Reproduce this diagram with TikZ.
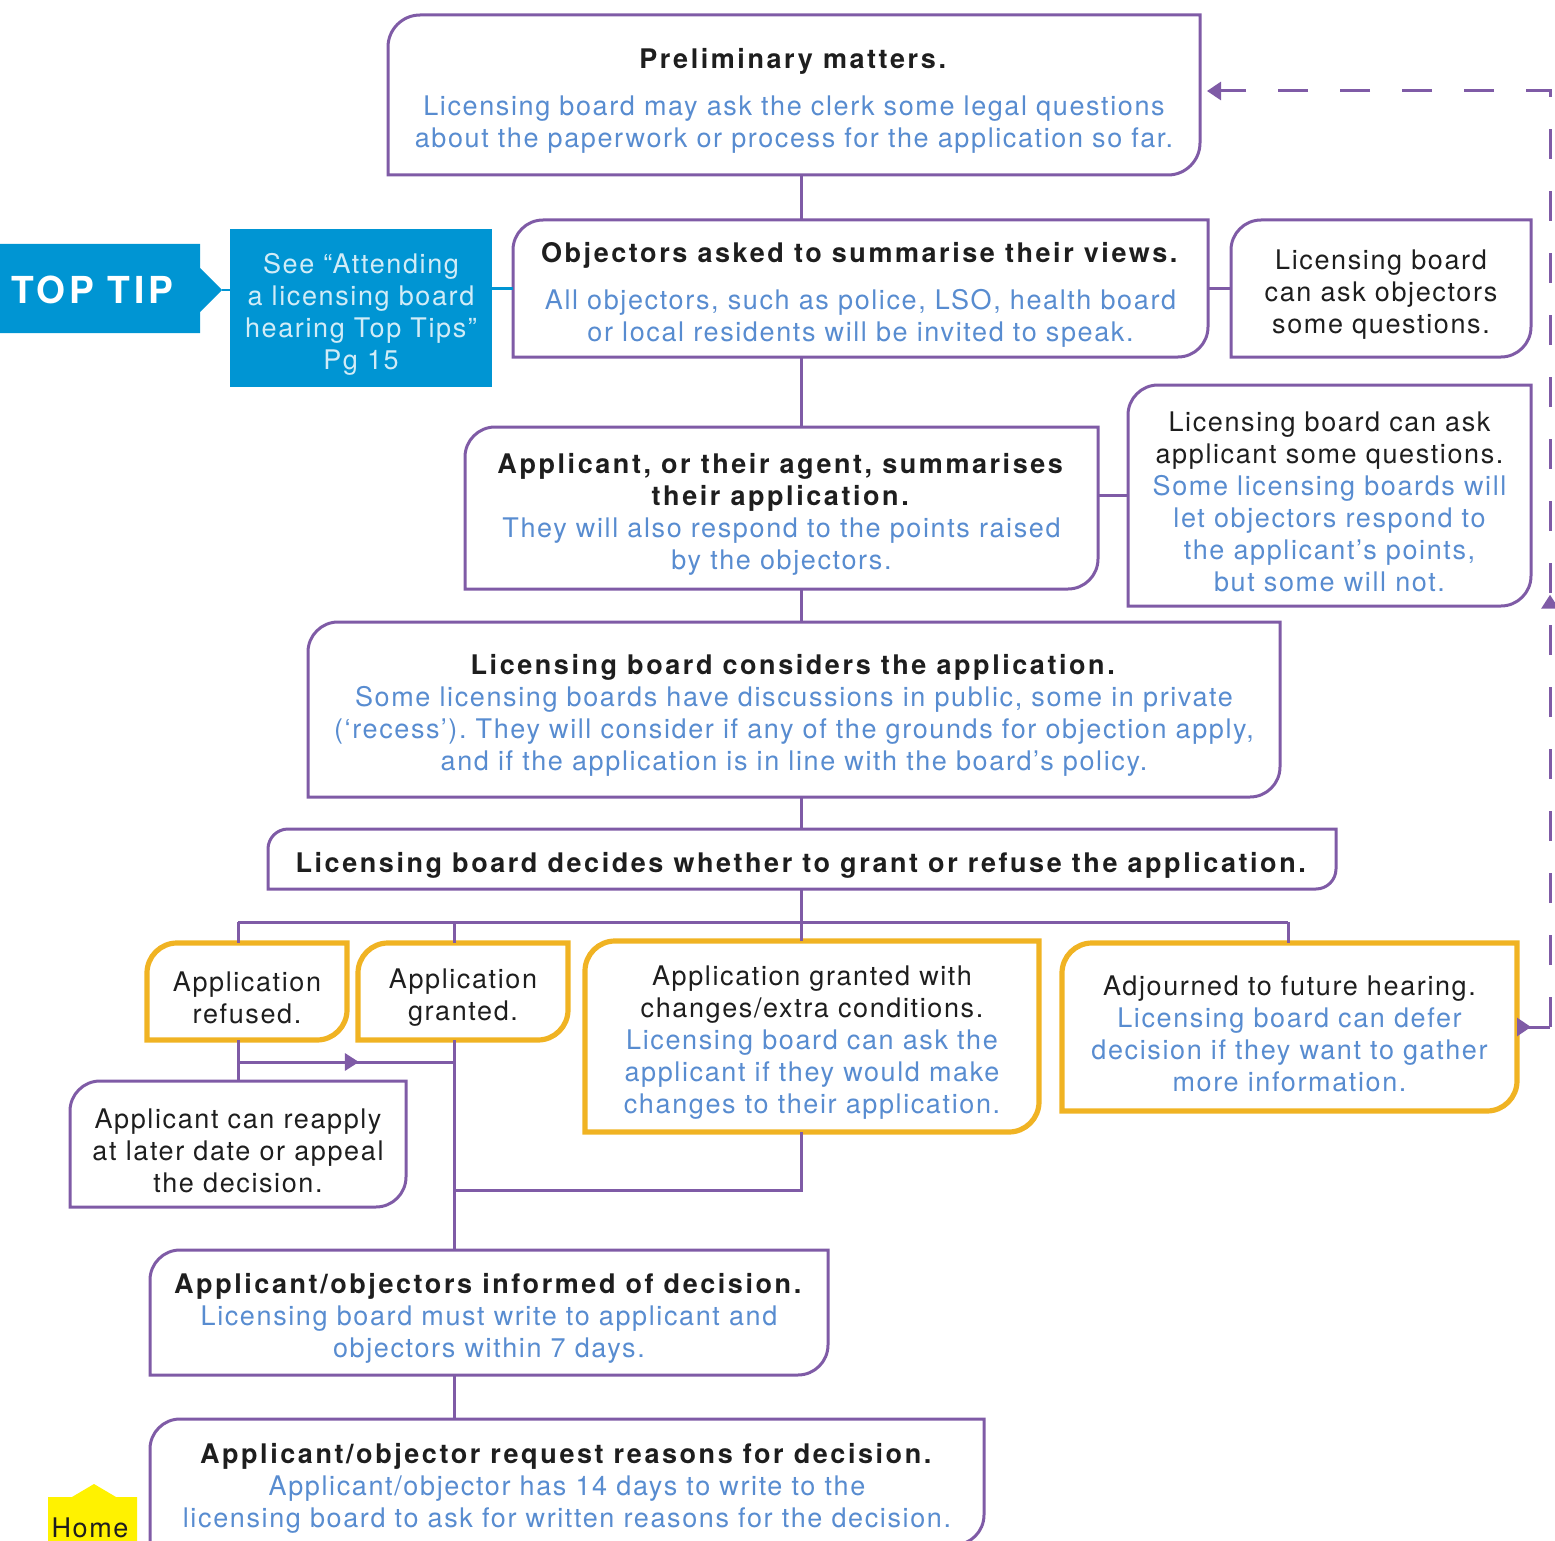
\documentclass[tikz,border=0pt]{standalone}
\usepackage{fontspec}
\setmainfont{TeX Gyre Heros}[LetterSpace=6,BoldFeatures={LetterSpace=9.5}]
\usetikzlibrary{arrows.meta,decorations.markings,calc}
\definecolor{purp}{RGB}{127,91,166}
\definecolor{bluetxt}{RGB}{88,140,208}
\definecolor{darktxt}{RGB}{30,30,30}
\definecolor{orng}{RGB}{240,179,35}
\definecolor{tipblue}{RGB}{0,149,211}
\definecolor{homey}{RGB}{255,242,0}
\frenchspacing
\newcommand\bt[1]{\textcolor{bluetxt}{#1}}
\newcommand\tp{\rule{0pt}{16.3pt}}
\newcommand\leafborder[3]{%
  \draw[#3] ($(#1.north west)+(0,#2)$) .. controls ($(#1.north west)+(0,{0.45*#2})$) and ($(#1.north west)+({0.45*#2},0)$) .. ($(#1.north west)+(#2,0)$) -- (#1.north east) -- ($(#1.south east)+(0,-#2)$) .. controls ($(#1.south east)+(0,{-0.45*#2})$) and ($(#1.south east)+({-0.45*#2},0)$) .. ($(#1.south east)+(-#2,0)$) -- (#1.south west) -- cycle;}
\tikzset{
  txt/.style={inner sep=0pt, outer sep=0pt, align=center, font=\fontsize{13.5}{16}\selectfont\frenchspacing, text=darktxt},
  pbox/.style={purp, line width=1.5pt},
  obox/.style={orng, line width=2.6pt},
  con/.style={purp, line width=1.5pt},
  tipline/.style={tipblue, line width=1.2pt},
  midarrow/.style={postaction={decorate}, decoration={markings, mark=at position #1 with {\arrow[solid]{Triangle[length=7pt,width=8.5pt]}}}}
}
\begin{document}
\begin{tikzpicture}[x=0.5pt,y=-0.5pt]
\clip (0,0) rectangle (1555,1541);
% nodes
\node[txt, minimum width=406pt, minimum height=80pt] (pre) at (794,95)
  {\tp\textbf{Preliminary matters.}\\[7.5pt]\bt{Licensing board may ask the clerk some legal questions}\\\bt{about the paperwork or process for the application so far.}};
\node[txt, minimum width=347.5pt, minimum height=68.5pt] (obj) at (860.5,288.5)
  {\tp\textbf{Objectors asked to summarise their views.}\\[7.5pt]\bt{All objectors, such as police, LSO, health board}\\\bt{or local residents will be invited to speak.}};
\node[txt, minimum width=150pt, minimum height=68.5pt] (objq) at (1381,288.5)
  {\tp Licensing board\\can ask objectors\\some questions.};
\fill[tipblue] (0,244) -- (200,244) -- (200,268) -- (222,290) -- (200,312) -- (200,333) -- (0,333) -- cycle;
\node[inner sep=0pt, font=\fontsize{18.6}{21}\selectfont\bfseries, text=white] (toptip) at (92,290) {TOP TIP};
\coordinate (tipnose) at (222,290);
\node[txt, fill=tipblue, text=white!82!tipblue, minimum width=131pt, minimum height=79pt] (tipbox) at (361,308)
  {\tp See “Attending\\a licensing board\\hearing Top Tips”\\Pg 15};
\node[txt, minimum width=316.5pt, minimum height=81pt] (app) at (781.5,508)
  {\tp\textbf{Applicant, or their agent, summarises}\\\textbf{their application.}\\\bt{They will also respond to the points raised}\\\bt{by the objectors.}};
\node[txt, minimum width=201.5pt, minimum height=110.5pt] (appq) at (1329.5,495.5)
  {\tp Licensing board can ask\\applicant some questions.\\\bt{Some licensing boards will}\\\bt{let objectors respond to}\\\bt{the applicant’s points,}\\\bt{but some will not.}};
\node[txt, minimum width=486pt, minimum height=87.5pt] (cons) at (794,709.5)
  {\tp\textbf{Licensing board considers the application.}\\\bt{Some licensing boards have discussions in public, some in private}\\\bt{(‘recess’). They will consider if any of the grounds for objection apply,}\\\bt{and if the application is in line with the board’s policy.}};
\node[txt, minimum width=534pt, minimum height=30pt] (dec) at (802,859)
  {\tp\textbf{Licensing board decides whether to grant or refuse the application.}};
\node[txt, minimum width=100pt, minimum height=48.5pt] (ref) at (247,991.5)
  {\tp Application\\refused.};
\node[txt, minimum width=105pt, minimum height=48.5pt] (gra) at (463,991.5)
  {\tp Application\\granted.};
\node[txt, minimum width=227pt, minimum height=95.5pt] (cond) at (812,1036.5)
  {\tp Application granted with\\changes/extra conditions.\\\bt{Licensing board can ask the}\\\bt{applicant if they would make}\\\bt{changes to their application.}};
\node[txt, minimum width=227.5pt, minimum height=84pt] (adj) at (1289.5,1027)
  {\tp Adjourned to future hearing.\\\bt{Licensing board can defer}\\\bt{decision if they want to gather}\\\bt{more information.}};
\node[txt, minimum width=168pt, minimum height=63pt] (reap) at (238,1144)
  {\tp Applicant can reapply\\at later date or appeal\\the decision.};
\node[txt, minimum width=339pt, minimum height=62.5pt] (inf) at (489,1312.5)
  {\tp\textbf{Applicant/objectors informed of decision.}\\\bt{Licensing board must write to applicant and}\\\bt{objectors within 7 days.}};
\node[txt, minimum width=417pt, minimum height=63pt] (req) at (567,1482)
  {\tp\textbf{Applicant/objector request reasons for decision.}\\\bt{Applicant/objector has 14 days to write to the}\\\bt{licensing board to ask for written reasons for the decision.}};
\fill[homey] (48,1497) -- (72,1497) -- (94,1484) -- (116,1497) -- (137,1497) -- (137,1545) -- (48,1545) -- cycle;
\node[inner sep=0pt, font=\fontsize{13.5}{16}\selectfont, text=darktxt] (home) at (90,1528) {Home};
% borders
\leafborder{pre}{32}{pbox}
\leafborder{obj}{30}{pbox}
\leafborder{objq}{30}{pbox}
\leafborder{app}{30}{pbox}
\leafborder{appq}{30}{pbox}
\leafborder{cons}{30}{pbox}
\leafborder{dec}{20}{pbox}
\leafborder{reap}{30}{pbox}
\leafborder{inf}{30}{pbox}
\leafborder{req}{30}{pbox}
\leafborder{ref}{30}{obox}
\leafborder{gra}{30}{obox}
\leafborder{cond}{30}{obox}
\leafborder{adj}{30}{obox}
% connectors
\coordinate (sp) at (801,0);
\coordinate (busL) at (238,922);
\coordinate (busG) at (454,922);
\coordinate (busR) at (1288,922);
\coordinate (refbr) at (238,1062);
\coordinate (grabr) at (454,1062);
\coordinate (cj) at (801,1190);
\coordinate (gj) at (454,1190);
\coordinate (dashC) at (1550,1027);
\coordinate (dashT) at (1550,91);
\coordinate (dashE) at (1207,91);
\draw[tipline] (tipnose) -- (tipnose -| tipbox.west);
\draw[tipline] (tipbox.east |- obj.west) -- (obj.west);
\draw[con] (pre.south -| sp) -- (obj.north -| sp);
\draw[con] (obj.east) -- (objq.west);
\draw[con] (obj.south -| sp) -- (app.north -| sp);
\draw[con] (appq.west -| app.east) -- (appq.west);
\draw[con] (app.south -| sp) -- (cons.north -| sp);
\draw[con] (cons.south -| sp) -- (dec.north -| sp);
\draw[con] (dec.south -| sp) -- (sp |- busL);
\draw[con] (busL) -- (busR);
\draw[con] (busL) -- (busL |- ref.north);
\draw[con] (busG) -- (busG |- gra.north);
\draw[con] (sp |- busL) -- (sp |- cond.north);
\draw[con] (busR) -- (busR |- adj.north);
\draw[con] (busL |- ref.south) -- (busL |- reap.north);
\draw[con, midarrow=0.56] (refbr) -- (grabr);
\draw[con] (busG |- gra.south) -- (busG |- inf.north);
\draw[con] (sp |- cond.south) -- (cj) -- (gj);
\draw[con] (busG |- inf.south) -- (busG |- req.north);
\draw[con, {Triangle[reversed,length=7pt,width=9pt]}-] (adj.east |- dashC) -- (dashC);
\draw[con, dash pattern=on 15pt off 16pt, midarrow=0.338, -{Triangle[length=7pt,width=9pt]}] (dashC) -- (dashT) -- (dashE);
\end{tikzpicture}
\end{document}
